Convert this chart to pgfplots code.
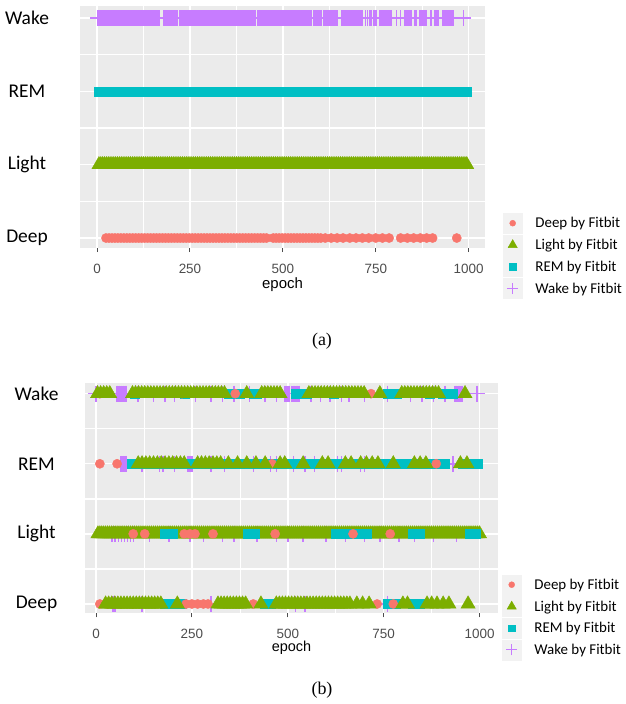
\documentclass[border=0pt]{standalone}
\usepackage{pgfplots}
\pgfplotsset{compat=1.18}
\usepackage{fontspec}
\setmainfont{Liberation Sans}
\newfontfamily\calibri{Carlito}
\newfontfamily\timesf{Liberation Serif}
\definecolor{cDeep}{HTML}{F8766D}
\definecolor{cLight}{HTML}{7CAE00}
\definecolor{cREM}{HTML}{00BFC4}
\definecolor{cWake}{HTML}{C77CFF}
\definecolor{panelbg}{HTML}{EBEBEB}
\definecolor{tickc}{HTML}{4D4D4D}
\definecolor{legbg}{HTML}{F2F2F2}
\pgfplotsset{
  deepS/.style={only marks, mark=*, color=cDeep, mark size=4.6bp, mark options={solid, line width=0.4bp, draw=cDeep, fill=cDeep}, forget plot},
  lightS/.style={only marks, mark=triangle*, color=cLight, mark size=8.2bp, mark options={solid, line width=0.4bp, draw=cLight, fill=cLight}, forget plot},
  remS/.style={only marks, mark=square*, color=cREM, mark size=4.5bp, mark options={solid, line width=0.4bp, draw=cREM, fill=cREM}, forget plot},
  wakeS/.style={only marks, mark=+, color=cWake, mark size=8bp, mark options={solid, draw=cWake, line width=1.5bp}, forget plot},
  ggkey/.style={legend image code/.code={
      \fill[legbg] (-9.5bp,-10bp) rectangle (9.5bp,10bp);
      \path (22.5bp,0bp);
      \draw plot coordinates {(0bp,0bp)};}},
  ggkeyplus/.style={legend image code/.code={
      \fill[legbg] (-9.5bp,-10bp) rectangle (9.5bp,10bp);
      \path (22.5bp,0bp);
      \draw[cWake, line width=1.15bp] (-5.5bp,0bp) -- (5.5bp,0bp) (0bp,-5.5bp) -- (0bp,5.5bp);}},
  ggbase/.style={
    scale only axis,
    axis background/.style={fill=panelbg},
    axis line style={draw=none},
    grid=both,
    major grid style={white, line width=1.4bp},
    minor grid style={white, line width=0.7bp},
    xtick={0,250,500,750,1000},
    xticklabels={0,250,500,750,1000},
    minor xtick={125,375,625,875},
    ytick={1,2,3,4},
    yticklabels={Deep,Light,REM,Wake},
    extra y ticks={1.5,2.5,3.5},
    extra y tick labels={},
    extra y tick style={grid=major, tick style={draw=none}},
    tick align=outside,
    tick pos=left,
    major tick length=4bp,
    minor tick length=0bp,
    xtick style={draw=tickc, line width=1bp},
    ytick style={draw=none},
    xticklabel style={font=\fontsize{13.5}{15}\selectfont, text=tickc, anchor=center, yshift=-16.7bp},
    yticklabel style={font=\calibri\fontsize{19.5}{22}\selectfont, text=black, anchor=center},
    xlabel={epoch},
    xlabel style={at={(axis description cs:0.5,0)}, anchor=center},
    legend style={font=\calibri\fontsize{15}{18}\selectfont, draw=none, fill=none, inner sep=0pt, outer sep=0pt,
      cells={anchor=west}, nodes={inner sep=0pt, text height=10bp, text depth=0.5bp},
      row sep=1.3bp, column sep=0pt, anchor=north west},
  },
}
\newcommand{\gglegend}{%
\addlegendimage{only marks, mark=*, color=cDeep, mark size=3bp, mark options={solid, draw=cDeep, fill=cDeep}, ggkey}
\addlegendentry{Deep by Fitbit}
\addlegendimage{only marks, mark=triangle*, color=cLight, mark size=5.3bp, mark options={solid, draw=cLight, fill=cLight}, ggkey}
\addlegendentry{Light by Fitbit}
\addlegendimage{only marks, mark=square*, color=cREM, mark size=3.3bp, mark options={solid, draw=cREM, fill=cREM}, ggkey}
\addlegendentry{REM by Fitbit}
\addlegendimage{color=cWake, ggkeyplus}
\addlegendentry{Wake by Fitbit}}
\begin{document}
\begin{tikzpicture}
\useasboundingbox (0,0) rectangle (626bp,-704bp);
% ---------------- panel (a) ----------------
\begin{axis}[ggbase, at={(80bp,-248bp)}, anchor=south west, width=405bp, height=242bp,
  xmin=-46, xmax=1044, ymin=0.864, ymax=4.164,
  yticklabel style={xshift=-49bp},
  xlabel style={font=\fontsize{15}{18}\selectfont, yshift=-37bp},
  legend style={at={(axis description cs:1.0444,0.1446)}}]
\addplot[deepS] coordinates {(24,1)(32,1)(40,1)(48,1)(56,1)(64,1)(72,1)(80,1)(88,1)(96,1)(104,1)(112,1)(120,1)(128,1)(136,1)(144,1)(152,1)(160,1)(168,1)(176,1)(184,1)(192,1)(200,1)(208,1)(216,1)(224,1)(232,1)(240,1)(248,1)(256,1)(264,1)(272,1)(280,1)(288,1)(296,1)(304,1)(312,1)(320,1)(328,1)(336,1)(344,1)(352,1)(360,1)(368,1)(376,1)(384,1)(392,1)(400,1)(408,1)(416,1)(424,1)(432,1)(440,1)(448,1)(456,1)
(474,1)(482,1)(490,1)(498,1)(506,1)(514,1)(522,1)(530,1)(538,1)(546,1)(554,1)(562,1)(570,1)(578,1)(586,1)(594,1)(602,1)
(614,1)(630,1)(646,1)(662,1)(680,1)(697,1)(714,1)(731,1)(750,1)(768,1)(786,1)(817,1)(835,1)(852,1)(870,1)(887,1)(903,1)(968,1)};
\addplot[lightS] coordinates {(5,2)(10,2)(15,2)(20,2)(25,2)(30,2)(35,2)(40,2)(45,2)(50,2)(55,2)(60,2)(65,2)(70,2)(75,2)(80,2)(85,2)(90,2)(95,2)(100,2)
(105,2)(110,2)(115,2)(120,2)(125,2)(130,2)(135,2)(140,2)(145,2)(150,2)(155,2)(160,2)(165,2)(170,2)(175,2)(180,2)(185,2)(190,2)(195,2)(200,2)
(205,2)(210,2)(215,2)(220,2)(225,2)(230,2)(235,2)(240,2)(245,2)(250,2)(255,2)(260,2)(265,2)(270,2)(275,2)(280,2)(285,2)(290,2)(295,2)(300,2)
(305,2)(310,2)(315,2)(320,2)(325,2)(330,2)(335,2)(340,2)(345,2)(350,2)(355,2)(360,2)(365,2)(370,2)(375,2)(380,2)(385,2)(390,2)(395,2)(400,2)
(405,2)(410,2)(415,2)(420,2)(425,2)(430,2)(435,2)(440,2)(445,2)(450,2)(455,2)(460,2)(465,2)(470,2)(475,2)(480,2)(485,2)(490,2)(495,2)(500,2)
(505,2)(510,2)(515,2)(520,2)(525,2)(530,2)(535,2)(540,2)(545,2)(550,2)(555,2)(560,2)(565,2)(570,2)(575,2)(580,2)(585,2)(590,2)(595,2)(600,2)
(605,2)(610,2)(615,2)(620,2)(625,2)(630,2)(635,2)(640,2)(645,2)(650,2)(655,2)(660,2)(665,2)(670,2)(675,2)(680,2)(685,2)(690,2)(695,2)(700,2)
(705,2)(710,2)(715,2)(720,2)(725,2)(730,2)(735,2)(740,2)(745,2)(750,2)(755,2)(760,2)(765,2)(770,2)(775,2)(780,2)(785,2)(790,2)(795,2)(800,2)
(805,2)(810,2)(815,2)(820,2)(825,2)(830,2)(835,2)(840,2)(845,2)(850,2)(855,2)(860,2)(865,2)(870,2)(875,2)(880,2)(885,2)(890,2)(895,2)(900,2)
(905,2)(910,2)(915,2)(920,2)(925,2)(930,2)(935,2)(940,2)(945,2)(950,2)(955,2)(960,2)(965,2)(970,2)(975,2)(980,2)(985,2)(990,2)(995,2)};
\addplot[remS] coordinates {(5,3)(25,3)(45,3)(65,3)(85,3)(105,3)(125,3)(145,3)(165,3)(185,3)(205,3)(225,3)(245,3)(265,3)(285,3)(305,3)(325,3)(345,3)(365,3)(385,3)
(405,3)(425,3)(445,3)(465,3)(485,3)(505,3)(525,3)(545,3)(565,3)(585,3)(605,3)(625,3)(645,3)(665,3)(685,3)(705,3)(725,3)(745,3)(765,3)(785,3)
(805,3)(825,3)(845,3)(865,3)(885,3)(905,3)(925,3)(945,3)(965,3)(985,3)(995,3)};
\addplot[wakeS] coordinates {(3,4)(7,4)(11,4)(15,4)(19,4)(23,4)(27,4)(31,4)(35,4)(39,4)(43,4)(47,4)(51,4)(55,4)(59,4)(63,4)(67,4)(71,4)(75,4)(79,4)(83,4)(87,4)(91,4)(95,4)(99,4)(103,4)(107,4)(111,4)(115,4)(119,4)(123,4)(127,4)(131,4)(135,4)(139,4)(143,4)(147,4)(151,4)(155,4)(159,4)(163,4)(167,4)
(180,4)(184,4)(188,4)(192,4)(196,4)(200,4)(204,4)(208,4)(212,4)(216,4)
(222,4)(226,4)(230,4)(234,4)(238,4)(242,4)(246,4)(250,4)(254,4)(258,4)(262,4)(266,4)(270,4)(274,4)(278,4)(282,4)(286,4)(290,4)(294,4)(298,4)(302,4)(306,4)(310,4)(314,4)(318,4)(322,4)(326,4)(330,4)(334,4)(338,4)(342,4)(346,4)(350,4)(354,4)(358,4)(362,4)(366,4)(370,4)(374,4)(378,4)(382,4)(386,4)(390,4)(394,4)(398,4)(402,4)(406,4)(410,4)(414,4)(418,4)(422,4)(426,4)
(432,4)(436,4)(440,4)(444,4)(448,4)(452,4)(456,4)(460,4)(464,4)(468,4)(472,4)(476,4)(480,4)(484,4)(488,4)(492,4)(496,4)(500,4)(504,4)(508,4)(512,4)(516,4)(520,4)(524,4)(528,4)(532,4)(536,4)(540,4)(544,4)(548,4)(552,4)(556,4)(560,4)(564,4)(568,4)(572,4)(576,4)
(584,4)(588,4)(592,4)(596,4)(600,4)(604,4)
(611,4)(615,4)(619,4)(623,4)(627,4)(631,4)(635,4)(639,4)(643,4)(647,4)
(659,4)(663,4)(667,4)(671,4)(675,4)(680,4)(684,4)(688,4)(692,4)(697,4)(701,4)(705,4)(709,4)(713,4)
(722,4)(728,4)(734,4)(739,4)(745,4)(751,4)
(761,4)(765,4)(769,4)(773,4)(777,4)(781,4)(785,4)(789,4)(793,4)(806,4)(816,4)
(829,4)(833,4)(837,4)(841,4)(845,4)(856,4)(860,4)(869,4)(873,4)(877,4)(881,4)(885,4)(898,4)(909,4)(913,4)(917,4)
(931,4)(935,4)(939,4)(943,4)(947,4)(951,4)(955,4)(959,4)(986,4)};
\gglegend
\end{axis}
% ---------------- panel (b) ----------------
\begin{axis}[ggbase, at={(85bp,-613.3bp)}, anchor=south west, width=413bp, height=230bp,
  xmin=-28.7, xmax=1048, ymin=0.867, ymax=4.148,
  yticklabel style={xshift=-44.5bp},
  xlabel style={font=\fontsize{14.5}{17}\selectfont, yshift=-34.5bp},
  legend style={at={(axis description cs:1.0097,0.1687)}}]
% Wake by Fitbit (plus)
\addplot[wakeS] coordinates {(0,4)(55,4)(60,4)(65,4)(70,4)(75,4)(80,4)(110,4)(150,4)(180,4)(205,4)(260,4)(300,4)(330,4)(360,4)(400,4)(440,4)(470,4)(493,4)(497,4)(501,4)(505,4)(509,4)(513,4)(517,4)(521,4)(525,4)(529,4)(560,4)(585,4)(610,4)(640,4)(660,4)(700,4)(760,4)(820,4)(850,4)(880,4)(910,4)(936,4)(940,4)(944,4)(948,4)(952,4)(956,4)(993,4)
(65,3)(70,3)(75,3)(80,3)(120,3)(165,3)(175,3)(205,3)(240,3)(245,3)(250,3)(300,3)(335,3)(410,3)(455,3)(470,3)(515,3)(545,3)(570,3)(630,3)(640,3)(690,3)(700,3)(931,3)
(42,2)(50,2)(58,2)(66,2)(74,2)(82,2)(90,2)(98,2)(140,2)(190,2)(245,2)(280,2)(330,2)(360,2)(420,2)(470,2)(500,2)(540,2)(600,2)(650,2)(700,2)(740,2)(790,2)(830,2)(880,2)(940,2)
(44,1)(50,1)(120,1)(300,1)(520,1)(545,1)(760,1)};
% Light by Fitbit, row Light
\addplot[lightS] coordinates {(5,2)(10,2)(15,2)(20,2)(25,2)(30,2)(35,2)(40,2)(45,2)(50,2)(55,2)(60,2)(65,2)(70,2)(75,2)(80,2)(85,2)(90,2)(95,2)(100,2)
(105,2)(110,2)(115,2)(120,2)(125,2)(130,2)(135,2)(140,2)(145,2)(150,2)(155,2)(160,2)(165,2)(170,2)(175,2)(180,2)(185,2)(190,2)(195,2)(200,2)
(205,2)(210,2)(215,2)(220,2)(225,2)(230,2)(235,2)(240,2)(245,2)(250,2)(255,2)(260,2)(265,2)(270,2)(275,2)(280,2)(285,2)(290,2)(295,2)(300,2)
(305,2)(310,2)(315,2)(320,2)(325,2)(330,2)(335,2)(340,2)(345,2)(350,2)(355,2)(360,2)(365,2)(370,2)(375,2)(380,2)(385,2)(390,2)(395,2)(400,2)
(405,2)(410,2)(415,2)(420,2)(425,2)(430,2)(435,2)(440,2)(445,2)(450,2)(455,2)(460,2)(465,2)(470,2)(475,2)(480,2)(485,2)(490,2)(495,2)(500,2)
(505,2)(510,2)(515,2)(520,2)(525,2)(530,2)(535,2)(540,2)(545,2)(550,2)(555,2)(560,2)(565,2)(570,2)(575,2)(580,2)(585,2)(590,2)(595,2)(600,2)
(605,2)(610,2)(615,2)(620,2)(625,2)(630,2)(635,2)(640,2)(645,2)(650,2)(655,2)(660,2)(665,2)(670,2)(675,2)(680,2)(685,2)(690,2)(695,2)(700,2)
(705,2)(710,2)(715,2)(720,2)(725,2)(730,2)(735,2)(740,2)(745,2)(750,2)(755,2)(760,2)(765,2)(770,2)(775,2)(780,2)(785,2)(790,2)(795,2)(800,2)
(805,2)(810,2)(815,2)(820,2)(825,2)(830,2)(835,2)(840,2)(845,2)(850,2)(855,2)(860,2)(865,2)(870,2)(875,2)(880,2)(885,2)(890,2)(895,2)(900,2)
(905,2)(910,2)(915,2)(920,2)(925,2)(930,2)(935,2)(940,2)(945,2)(950,2)(955,2)(960,2)(965,2)(970,2)(975,2)(980,2)(985,2)(990,2)(995,2)(1000,2)};
% REM by Fitbit (square)
\addplot[remS] coordinates {(100,4)(230,4)(345,4)(360,4)(375,4)(410,4)(420,4)(520,4)(535,4)(548,4)(620,4)(760,4)(772,4)(785,4)(870,4)(905,4)(918,4)(930,4)
(94,3)(110,3)(130,3)(150,3)(170,3)(190,3)(210,3)(230,3)(250,3)(270,3)(290,3)(310,3)(330,3)(350,3)(370,3)(390,3)(410,3)(430,3)(450,3)(470,3)(490,3)(510,3)(530,3)(550,3)(570,3)(590,3)(610,3)(630,3)(650,3)(670,3)(690,3)(710,3)(730,3)(750,3)(770,3)(790,3)(810,3)(830,3)(850,3)(870,3)(890,3)(910,3)(955,3)(975,3)(996,3)
(180,2)(200,2)(395,2)(415,2)(625,2)(640,2)(655,2)(685,2)(705,2)(825,2)(845,2)(975,2)(990,2)
(180,1)(200,1)(224,1)(440,1)(455,1)(760,1)(780,1)(825,1)(845,1)};
% Deep by Fitbit (circle)
\addplot[deepS] coordinates {(10,4)(224,4)(363,4)(717,4)
(10,3)(55,3)(459,3)(887,3)
(97,2)(127,2)(230,2)(245,2)(258,2)(305,2)(467,2)(670,2)(767,2)
(10,1)(30,1)(65,1)(95,1)(235,1)(250,1)(265,1)(280,1)(292,1)(410,1)(733,1)(775,1)};
% Light by Fitbit, rows Wake, REM, Deep
\addplot[lightS] coordinates {(4,4)(12,4)(20,4)(28,4)(36,4)(95,4)(103,4)(111,4)(119,4)(127,4)(135,4)(143,4)(151,4)(159,4)(167,4)(175,4)(183,4)(191,4)(199,4)(207,4)(215,4)(223,4)(231,4)(239,4)(247,4)(255,4)(263,4)(271,4)(279,4)(287,4)(295,4)(303,4)(311,4)(319,4)(327,4)(335,4)(393,4)(432,4)(440,4)(448,4)(456,4)(464,4)(472,4)(480,4)(555,4)(563,4)(571,4)(579,4)(587,4)(595,4)(603,4)(611,4)(619,4)(627,4)(635,4)(643,4)(651,4)(659,4)(667,4)(675,4)(683,4)(691,4)(699,4)(740,4)(797,4)(805,4)(813,4)(821,4)(829,4)(837,4)(845,4)(853,4)(861,4)(869,4)(877,4)(885,4)(893,4)(962,4)
(110,3)(120,3)(130,3)(140,3)(150,3)(160,3)(170,3)(180,3)(190,3)(200,3)(210,3)(220,3)(230,3)(265,3)(275,3)(285,3)(295,3)(305,3)(315,3)(325,3)(345,3)(369,3)(393,3)(417,3)(441,3)(480,3)(492,3)(540,3)(590,3)(605,3)(650,3)(665,3)(690,3)(705,3)(720,3)(735,3)(775,3)(830,3)(845,3)(860,3)(950,3)(967,3)
(25,1)(33,1)(41,1)(49,1)(57,1)(65,1)(73,1)(81,1)(89,1)(97,1)(105,1)(113,1)(121,1)(129,1)(137,1)(145,1)(153,1)(161,1)(169,1)(212,1)(318,1)(326,1)(334,1)(342,1)(350,1)(358,1)(366,1)(374,1)(382,1)(390,1)(430,1)(470,1)(478,1)(486,1)(494,1)(502,1)(510,1)(518,1)(526,1)(534,1)(542,1)(550,1)(558,1)(566,1)(574,1)(582,1)(590,1)(598,1)(606,1)(614,1)(622,1)(630,1)(638,1)(646,1)(654,1)(662,1)(680,1)(695,1)(712,1)(800,1)(812,1)(863,1)(875,1)(889,1)(905,1)(920,1)(970,1)};
\gglegend
\end{axis}
\node[font=\timesf\fontsize{18}{20}\selectfont] at (322bp,-341bp) {(a)};
\node[font=\timesf\fontsize{18}{20}\selectfont] at (322bp,-690bp) {(b)};
\end{tikzpicture}
\end{document}
